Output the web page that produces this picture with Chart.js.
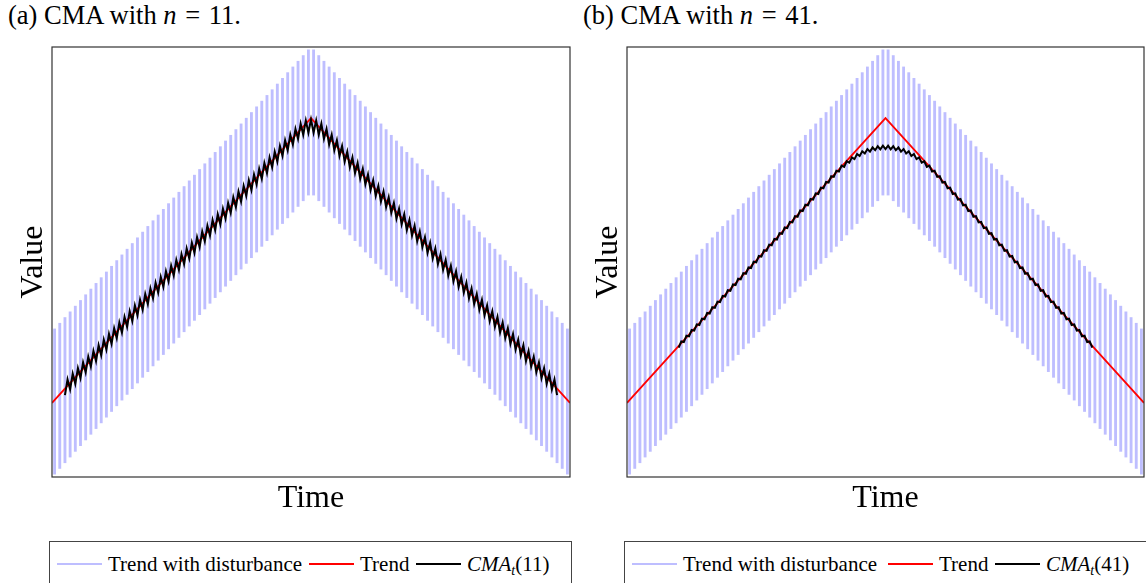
<!DOCTYPE html>
<html>
<head>
<meta charset="utf-8">
<script src="https://cdn.jsdelivr.net/npm/chart.js@4.4.1/dist/chart.umd.min.js"></script>
<style>
  html, body { margin: 0; padding: 0; background: #fff; }
  body { width: 1146px; height: 583px; overflow: hidden; position: relative;
         font-family: "Liberation Serif", "DejaVu Serif", serif; color: #000; }
  .caption { position: absolute; top: 2px; font-size: 26.5px; line-height: 1; white-space: nowrap; }
  .caption .eq { margin: 0 2px; }
  .panel { position: absolute; top: 30px; height: 490px; }
  .legend { position: absolute; top: 541px; height: 60px; border: 1px solid #444;
            font-size: 21px; white-space: nowrap; }
  .legend .item { position: absolute; top: 10px; display: flex; align-items: center; line-height: 24px; }
  .legend .swatch { display: inline-block; width: 45px; height: 0; border-top: 2px solid; margin-right: 6px; }
  sub { font-size: 14px; vertical-align: -4px; line-height: 0; }
</style>
</head>
<body>

<div class="caption" style="left:8px">(a) CMA with <i>n</i>&nbsp;<span class="eq">=</span>&nbsp;11.</div>
<div class="caption" style="left:583px">(b) CMA with <i>n</i>&nbsp;<span class="eq">=</span>&nbsp;41.</div>

<div class="panel" style="left:0; width:575px"><canvas id="chartA"></canvas></div>
<div class="panel" style="left:575px; width:571px"><canvas id="chartB"></canvas></div>

<div class="legend" style="left:49px; width:521px">
  <div class="item" style="left:7px"><span class="swatch" style="border-color:rgb(190,190,255)"></span>Trend with disturbance</div>
  <div class="item" style="left:259px"><span class="swatch" style="border-color:#ff0000"></span>Trend</div>
  <div class="item" style="left:366px"><span class="swatch" style="border-color:#000"></span><i>CMA<sub>t</sub></i>(11)</div>
</div>
<div class="legend" style="left:624px; width:530px">
  <div class="item" style="left:7px"><span class="swatch" style="border-color:rgb(190,190,255)"></span>Trend with disturbance</div>
  <div class="item" style="left:263px"><span class="swatch" style="border-color:#ff0000"></span>Trend</div>
  <div class="item" style="left:370px"><span class="swatch" style="border-color:#000"></span><i>CMA<sub>t</sub></i>(41)</div>
</div>

<script>
// trend corners (time, value)
const trendTimes = [0, 100, 200];
const trendValues = [0, 100, 0];

// observed series, t = 0..200 (trend +/- disturbance)
const disturbed = [
  -25, 26, -23, 28, -21, 30, -19, 32, -17, 34, -15, 36, -13, 38, -11, 40, -9, 42, -7, 44,
  -5, 46, -3, 48, -1, 50, 1, 52, 3, 54, 5, 56, 7, 58, 9, 60, 11, 62, 13, 64,
  15, 66, 17, 68, 19, 70, 21, 72, 23, 74, 25, 76, 27, 78, 29, 80, 31, 82, 33, 84,
  35, 86, 37, 88, 39, 90, 41, 92, 43, 94, 45, 96, 47, 98, 49, 100, 51, 102, 53, 104,
  55, 106, 57, 108, 59, 110, 61, 112, 63, 114, 65, 116, 67, 118, 69, 120, 71, 122, 73, 124,
  75,
  124, 73, 122, 71, 120, 69, 118, 67, 116, 65, 114, 63, 112, 61, 110, 59, 108, 57, 106,
  55, 104, 53, 102, 51, 100, 49, 98, 47, 96, 45, 94, 43, 92, 41, 90, 39, 88, 37, 86,
  35, 84, 33, 82, 31, 80, 29, 78, 27, 76, 25, 74, 23, 72, 21, 70, 19, 68, 17, 66,
  15, 64, 13, 62, 11, 60, 9, 58, 7, 56, 5, 54, 3, 52, 1, 50, -1, 48, -3, 46,
  -5, 44, -7, 42, -9, 40, -11, 38, -13, 36, -15, 34, -17, 32, -19, 30, -21, 28, -23, 26,
  -25
];

const windowSizes = [11, 41];
const yMin = -26, yMax = 125;

// centered moving average of the observed series
function cma(values, n) {
  const h = (n - 1) / 2;
  const out = [];
  for (let t = h; t < values.length - h; t++) {
    let s = 0;
    for (let k = t - h; k <= t + h; k++) s += values[k];
    out.push({x: t, y: s / n});
  }
  return out;
}

// each peak sample drawn as a thin span down to the neighbouring trough
function spans(values) {
  const out = [];
  for (let t = 1; t < values.length - 1; t += 2) {
    out.push({x: t, y: [Math.min(values[t - 1], values[t + 1]), values[t]]});
  }
  return out;
}

const frame = {
  id: 'frame',
  afterDraw(chart) {
    const a = chart.chartArea, ctx = chart.ctx;
    ctx.save();
    ctx.strokeStyle = '#333';
    ctx.lineWidth = 1.2;
    ctx.strokeRect(a.left, a.top, a.right - a.left, a.bottom - a.top);
    ctx.restore();
  }
};

function makeChart(id, n, padRight) {
  return new Chart(document.getElementById(id), {
    type: 'bar',
    data: {
      datasets: [{
        type: 'line',
        label: 'CMA',
        data: cma(disturbed, n),
        borderColor: '#000',
        borderWidth: 2,
        pointRadius: 0,
        order: 1
      }, {
        type: 'line',
        label: 'Trend',
        data: trendTimes.map((t, i) => ({x: t, y: trendValues[i]})),
        borderColor: '#ff0000',
        borderWidth: 1.8,
        pointRadius: 0,
        order: 2
      }, {
        type: 'bar',
        label: 'Trend with disturbance',
        data: spans(disturbed),
        backgroundColor: 'rgb(190,190,255)',
        borderWidth: 0,
        barThickness: 2.2,
        order: 3
      }]
    },
    options: {
      responsive: true,
      maintainAspectRatio: false,
      animation: false,
      layout: {padding: {top: 17, right: padRight, left: 0, bottom: 0}},
      plugins: {legend: {display: false}, tooltip: {enabled: false}},
      scales: {
        x: {
          type: 'linear', min: 0, max: 200, offset: false,
          grid: {display: false}, border: {display: false},
          ticks: {display: false},
          title: {display: true, text: 'Time', color: '#000',
                  font: {family: 'Liberation Serif', size: 32}, padding: {top: 0, bottom: 2}},
          afterFit(s) { s.height = 43; }
        },
        y: {
          min: yMin, max: yMax,
          grid: {display: false}, border: {display: false},
          ticks: {display: false},
          title: {display: true, text: 'Value', color: '#000',
                  font: {family: 'Liberation Serif', size: 32}, padding: {top: 14, bottom: 0}},
          afterFit(s) { s.width = 52; }
        }
      }
    },
    plugins: [frame]
  });
}

makeChart('chartA', windowSizes[0], 5);
makeChart('chartB', windowSizes[1], 2);
</script>
</body>
</html>
